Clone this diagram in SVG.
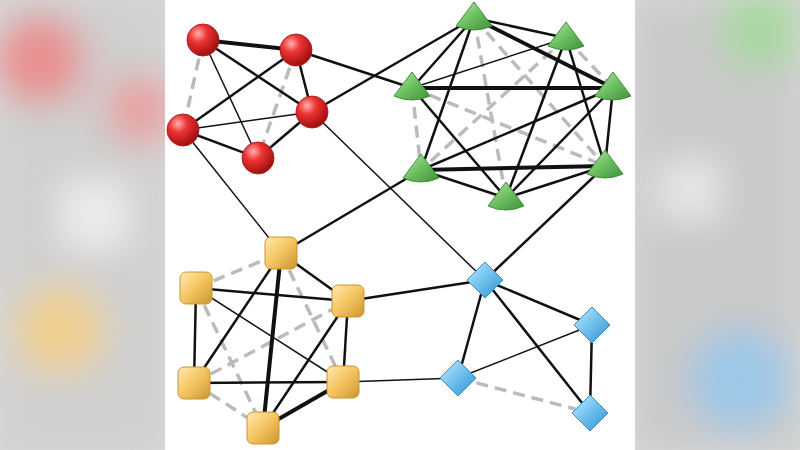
<svg xmlns="http://www.w3.org/2000/svg" width="800" height="450" viewBox="0 0 800 450">
<defs>
<filter id="blur" x="-50%" y="-50%" width="200%" height="200%"><feGaussianBlur stdDeviation="18"/></filter>
<radialGradient id="red" cx="35%" cy="30%" r="70%"><stop offset="0" stop-color="#ffb0b0"/><stop offset="0.4" stop-color="#e33"/><stop offset="1" stop-color="#a01010"/></radialGradient>
<linearGradient id="green" x1="0" y1="0" x2="1" y2="1"><stop offset="0" stop-color="#b8eab0"/><stop offset="0.5" stop-color="#6cc060"/><stop offset="1" stop-color="#3f8f3a"/></linearGradient>
<linearGradient id="yellow" x1="0" y1="0" x2="1" y2="1"><stop offset="0" stop-color="#ffe9b0"/><stop offset="0.5" stop-color="#f4c460"/><stop offset="1" stop-color="#c99530"/></linearGradient>
<linearGradient id="blue" x1="0" y1="0" x2="1" y2="1"><stop offset="0" stop-color="#c8ecff"/><stop offset="0.5" stop-color="#6cbfee"/><stop offset="1" stop-color="#3a8ec8"/></linearGradient>
<style>
.s{stroke:#111;stroke-width:2.5;fill:none}
.t{stroke:#111;stroke-width:4;fill:none}
.n{stroke:#111;stroke-width:1.5;fill:none}
.d{stroke:#bbb;stroke-width:3.5;stroke-dasharray:12 7;fill:none}
.rs{fill:url(#red);stroke:#b02020;stroke-width:1}
.gc{fill:url(#green);stroke:#3f8f3a;stroke-width:1}
.ys{fill:url(#yellow);stroke:#c99530;stroke-width:1}
.bd{fill:url(#blue);stroke:#3a8ec8;stroke-width:1}
</style>
</defs>
<rect width="800" height="450" fill="#d8d8d8"/>
<g filter="url(#blur)">
<rect x="0" y="0" width="165" height="450" fill="#cfcfcf"/>
<rect x="635" y="0" width="165" height="450" fill="#c9c9c9"/>
<circle cx="40" cy="60" r="45" fill="#e89090"/>
<circle cx="140" cy="110" r="35" fill="#e8a0a0"/>
<circle cx="60" cy="330" r="45" fill="#f0d090"/>
<circle cx="760" cy="30" r="40" fill="#a8d8a0"/>
<circle cx="740" cy="380" r="50" fill="#9cc8e8"/>
<rect x="660" y="160" width="60" height="60" fill="#e8e8e8"/>
<rect x="60" y="180" width="70" height="70" fill="#ececec"/>
</g>
<rect x="165" y="0" width="470" height="450" fill="#fff"/>
<g id="connectors">
<line class="d" x1="203" y1="40" x2="183" y2="130"/>
<line class="d" x1="296" y1="50" x2="258" y2="158"/>
<line class="d" x1="474" y1="18" x2="605" y2="166"/>
<line class="d" x1="412" y1="88" x2="421" y2="170"/>
<line class="d" x1="566" y1="38" x2="613" y2="88"/>
<line class="d" x1="412" y1="88" x2="605" y2="166"/>
<line class="d" x1="474" y1="18" x2="506" y2="198"/>
<line class="d" x1="566" y1="38" x2="421" y2="170"/>
<line class="d" x1="196" y1="288" x2="281" y2="253"/>
<line class="d" x1="281" y1="253" x2="343" y2="382"/>
<line class="d" x1="196" y1="288" x2="263" y2="428"/>
<line class="d" x1="194" y1="383" x2="348" y2="301"/>
<line class="d" x1="194" y1="383" x2="263" y2="428"/>
<line class="d" x1="458" y1="378" x2="590" y2="413"/>
<line class="t" x1="203" y1="40" x2="296" y2="50"/>
<line class="s" x1="203" y1="40" x2="312" y2="112"/>
<line class="n" x1="203" y1="40" x2="258" y2="158"/>
<line class="s" x1="296" y1="50" x2="183" y2="130"/>
<line class="s" x1="296" y1="50" x2="312" y2="112"/>
<line class="n" x1="312" y1="112" x2="183" y2="130"/>
<line class="s" x1="183" y1="130" x2="258" y2="158"/>
<line class="s" x1="312" y1="112" x2="258" y2="158"/>
<line class="s" x1="296" y1="50" x2="412" y2="88"/>
<line class="s" x1="312" y1="112" x2="474" y2="18"/>
<line class="n" x1="183" y1="130" x2="281" y2="253"/>
<line class="n" x1="312" y1="112" x2="485" y2="280"/>
<line class="s" x1="421" y1="170" x2="281" y2="253"/>
<line class="s" x1="605" y1="166" x2="485" y2="280"/>
<line class="s" x1="348" y1="301" x2="485" y2="280"/>
<line class="n" x1="343" y1="382" x2="458" y2="378"/>
<line class="s" x1="474" y1="18" x2="566" y2="38"/>
<line class="s" x1="474" y1="18" x2="412" y2="88"/>
<line class="t" x1="474" y1="18" x2="613" y2="88"/>
<line class="s" x1="474" y1="18" x2="421" y2="170"/>
<line class="n" x1="566" y1="38" x2="412" y2="88"/>
<line class="s" x1="566" y1="38" x2="506" y2="198"/>
<line class="s" x1="566" y1="38" x2="605" y2="166"/>
<line class="t" x1="412" y1="88" x2="613" y2="88"/>
<line class="s" x1="412" y1="88" x2="506" y2="198"/>
<line class="s" x1="613" y1="88" x2="421" y2="170"/>
<line class="s" x1="613" y1="88" x2="506" y2="198"/>
<line class="s" x1="613" y1="88" x2="605" y2="166"/>
<line class="s" x1="421" y1="170" x2="506" y2="198"/>
<line class="t" x1="421" y1="170" x2="605" y2="166"/>
<line class="s" x1="506" y1="198" x2="605" y2="166"/>
<line class="s" x1="281" y1="253" x2="348" y2="301"/>
<line class="s" x1="281" y1="253" x2="194" y2="383"/>
<line class="t" x1="281" y1="253" x2="263" y2="428"/>
<line class="s" x1="196" y1="288" x2="348" y2="301"/>
<line class="s" x1="196" y1="288" x2="194" y2="383"/>
<line class="n" x1="196" y1="288" x2="343" y2="382"/>
<line class="s" x1="348" y1="301" x2="263" y2="428"/>
<line class="s" x1="348" y1="301" x2="343" y2="382"/>
<line class="s" x1="194" y1="383" x2="343" y2="382"/>
<line class="t" x1="343" y1="382" x2="263" y2="428"/>
<line class="s" x1="485" y1="280" x2="592" y2="325"/>
<line class="s" x1="485" y1="280" x2="458" y2="378"/>
<line class="s" x1="485" y1="280" x2="590" y2="413"/>
<line class="n" x1="592" y1="325" x2="458" y2="378"/>
<line class="s" x1="592" y1="325" x2="590" y2="413"/>
</g>
<g id="R1"><circle class="rs" cx="203" cy="40" r="16"/></g>
<g id="R2"><circle class="rs" cx="296" cy="50" r="16"/></g>
<g id="R3"><circle class="rs" cx="312" cy="112" r="16"/></g>
<g id="R4"><circle class="rs" cx="183" cy="130" r="16"/></g>
<g id="R5"><circle class="rs" cx="258" cy="158" r="16"/></g>
<g id="G1"><path class="gc" d="M474 2 L492 26 Q474 34 456 26 Z"/></g>
<g id="G2"><path class="gc" d="M566 22 L584 46 Q566 54 548 46 Z"/></g>
<g id="G3"><path class="gc" d="M412 72 L430 96 Q412 104 394 96 Z"/></g>
<g id="G4"><path class="gc" d="M613 72 L631 96 Q613 104 595 96 Z"/></g>
<g id="G5"><path class="gc" d="M421 154 L439 178 Q421 186 403 178 Z"/></g>
<g id="G6"><path class="gc" d="M506 182 L524 206 Q506 214 488 206 Z"/></g>
<g id="G7"><path class="gc" d="M605 150 L623 174 Q605 182 587 174 Z"/></g>
<g id="Y1"><rect class="ys" x="265" y="237" width="32" height="32" rx="6"/></g>
<g id="Y2"><rect class="ys" x="180" y="272" width="32" height="32" rx="6"/></g>
<g id="Y3"><rect class="ys" x="332" y="285" width="32" height="32" rx="6"/></g>
<g id="Y4"><rect class="ys" x="178" y="367" width="32" height="32" rx="6"/></g>
<g id="Y5"><rect class="ys" x="327" y="366" width="32" height="32" rx="6"/></g>
<g id="Y6"><rect class="ys" x="247" y="412" width="32" height="32" rx="6"/></g>
<g id="B1"><path class="bd" d="M485 262 L503 280 L485 298 L467 280 Z"/></g>
<g id="B2"><path class="bd" d="M592 307 L610 325 L592 343 L574 325 Z"/></g>
<g id="B3"><path class="bd" d="M458 360 L476 378 L458 396 L440 378 Z"/></g>
<g id="B4"><path class="bd" d="M590 395 L608 413 L590 431 L572 413 Z"/></g>
</svg>
